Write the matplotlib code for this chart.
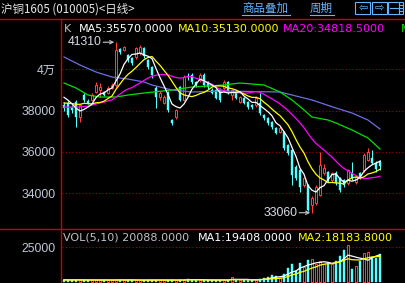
import matplotlib
matplotlib.use('Agg')
import matplotlib.pyplot as plt
import numpy as np
import pandas as pd
from matplotlib.patches import Rectangle

# ---------------- data ----------------
opens = [38270, 38370, 38180, 38420, 37690, 38760, 38470, 38510, 38900, 39000,
         38900, 38850, 39100, 39240, 40980, 40930, 40690, 40550, 40600, 40790,
         41030, 40450, 40110, 39100, 38660, 38370, 38850, 37550, 37690, 39140,
         38510, 39680, 39720, 39390, 39480, 39720, 39390, 39000, 39000, 39000,
         39100, 39390, 38760, 38900, 38420, 38610, 38420, 38270, 38270, 38370,
         37790, 37640, 37450, 37160, 36960, 36960, 36340, 36090, 35270, 35130,
         34400, 34400, 33430, 33530, 33920, 34980, 35030, 34640, 34980, 34740,
         34640, 34500, 34980, 34550, 34980, 35130, 35610, 35710, 35470, 35510]
highs = [38400, 38450, 38250, 38500, 38320, 38850, 38550, 38850, 39390, 39340,
         38950, 39200, 39350, 41310, 41050, 41150, 40750, 40600, 41100, 41180,
         41100, 40500, 40150, 39200, 38950, 38750, 38950, 37600, 38100, 39200,
         39700, 39820, 39800, 39450, 39800, 39800, 39450, 39100, 39050, 39100,
         39500, 39450, 39050, 38950, 38700, 38650, 38450, 38300, 38700, 38850,
         37850, 37700, 37500, 37200, 37250, 37000, 36400, 36150, 35350, 35200,
         34800, 34450, 33850, 34400, 36000, 35400, 35100, 35050, 35100, 34800,
         34700, 35200, 35510, 34900, 35050, 35950, 36200, 36100, 35550, 35600]
lows = [38000, 37700, 37900, 37210, 37450, 38400, 38300, 38450, 38850, 38660,
        38700, 38800, 39050, 39150, 40750, 40880, 40350, 40200, 40500, 40700,
        40550, 40000, 39600, 38130, 38510, 38300, 37950, 37300, 37600, 38450,
        38450, 39480, 39300, 39150, 39400, 39150, 39050, 38800, 38550, 38400,
        39000, 38800, 38510, 38550, 38350, 38300, 38100, 38100, 38200, 37800,
        37550, 37300, 37100, 36850, 36900, 36100, 35850, 34400, 34650, 34060,
        34300, 33150, 33060, 33450, 33850, 34900, 34550, 34550, 34400, 34050,
        34300, 34400, 34650, 34450, 34700, 35050, 35550, 35400, 35050, 35150]
closes = [38130, 37790, 38030, 37690, 38270, 38510, 38370, 38760, 39240, 39140,
          38760, 39100, 39240, 40930, 40840, 41080, 40450, 40300, 41030, 41080,
          40640, 40110, 39720, 38660, 38850, 38660, 38030, 37400, 38030, 38510,
          39630, 39630, 39390, 39240, 39720, 39240, 39150, 38850, 38610, 38510,
          39390, 38900, 39000, 38610, 38660, 38370, 38180, 38180, 38610, 37890,
          37640, 37400, 37210, 36920, 37160, 36190, 35950, 34880, 34740, 34300,
          34740, 33190, 33770, 34300, 35370, 35220, 34640, 34980, 34500, 34160,
          34400, 35130, 34740, 34790, 34790, 35850, 36000, 35470, 35180, 35300]
# closes before the first visible day (needed for the moving averages)
prior_closes = [37800, 38100, 37700, 37900, 38200, 38000, 37800, 38100, 38000, 38100,
                37900, 38200, 38000, 38300, 38050, 38500, 38900, 38700, 39000]
volumes = [1300, 1200, 1100, 1400, 1200, 1100, 1000, 1200, 1300, 1100,
           1200, 1000, 1100, 1500, 1300, 1200, 1100, 1000, 1200, 1100,
           1000, 1200, 1100, 1300, 1200, 1100, 1000, 1200, 1100, 1300,
           1200, 2200, 1300, 1200, 1100, 1000, 1200, 1100, 1000, 1200,
           1300, 1100, 3300, 1200, 1100, 1300, 1200, 1100, 1400, 1800,
           2600, 3200, 4800, 4000, 2900, 5500, 9800, 12400, 8000, 13500,
           10500, 15500, 16000, 12400, 15200, 12600, 13500, 12400, 15000, 18600,
           23000, 26600, 9000, 11000, 15150, 20500, 21500, 18000, 17000, 20088]
# long moving averages (day index, value)
ma40_idx = [0, 3, 6, 9, 13, 16, 20, 27, 32, 40, 44, 50, 54, 57, 60, 62, 66, 68, 72, 76, 79]
ma40_val = [39337, 39095, 38756, 38659, 38659, 38756, 38853, 38998, 39143, 39240, 39337,
            39240, 38901, 38514, 38030, 37691, 37546, 37401, 37062, 36675, 36143]
ma60_idx = [0, 4, 8, 12, 16, 20, 22, 27, 32, 40, 54, 57, 62, 68, 72, 76, 79]
ma60_val = [40595, 40208, 39869, 39627, 39530, 39385, 39240, 38998, 38901, 38950, 38901,
            38756, 38514, 38127, 37885, 37546, 37111]
price_ticks = [34000, 36000, 38000, 40000]
price_tick_labels = ['34000', '36000', '38000', '4万']
vol_ticks = [25000]
vol_tick_labels = ['25000']
title_text = '沪铜1605 (010005)<日线>'
header_k = [('K', '#c0c0c0', 64), ('MA5:35570.0000', '#ffffff', 79),
            ('MA10:35130.0000', '#ffff00', 178), ('MA20:34818.5000', '#ff00ff', 283),
            ('MA', '#00e000', 401)]
header_vol = [('VOL(5,10) 20088.0000', '#c0c0c0', 63), ('MA1:19408.0000', '#ffffff', 198),
              ('MA2:18183.8000', '#ffff00', 298)]

# ---------------- figure ----------------
W, H = 406, 283
fig = plt.figure(figsize=(W / 100, H / 100), dpi=100, facecolor='black')

def fx(px):
    return px / W

def fy(py):
    return 1 - py / H

RED_UP = '#ff3c3c'
CYAN = '#54ffff'
FRAME = '#d00000'
GRID = '#a00000'
TICKC = '#c0c8d8'

ax = fig.add_axes([fx(62), fy(229), fx(406) - fx(62), fy(18) - fy(229)])
axv = fig.add_axes([fx(62), 0, fx(406) - fx(62), fy(229)])
for a in (ax, axv):
    a.set_facecolor('black')
    for s in a.spines.values():
        s.set_visible(False)
    a.set_xlim(-0.5, 85.5)
    a.set_xticks([])
    a.tick_params(axis='y', length=0, pad=4.3, colors=TICKC)

ax.set_ylim(32273, 42482)
axv.set_ylim(-1000, 38000)

o = np.array(opens, float)
h = np.array(highs, float)
l = np.array(lows, float)
c = np.array(closes, float)
v = np.array(volumes, float)
x = np.arange(len(c))
up = c >= o
top = np.maximum(o, c)
bot = np.minimum(o, c)
bh = np.maximum(top - bot, 25)
lw = 0.75

# wicks
ax.vlines(x[up], top[up], h[up], color=RED_UP, lw=lw, zorder=2)
ax.vlines(x[up], l[up], bot[up], color=RED_UP, lw=lw, zorder=2)
ax.vlines(x[~up], l[~up], h[~up], color=CYAN, lw=lw, zorder=2)
# bodies
ax.bar(x[up], bh[up], bottom=bot[up], width=0.62, facecolor='black',
       edgecolor=RED_UP, linewidth=lw, zorder=2.1)
ax.bar(x[~up], bh[~up], bottom=bot[~up], width=0.7, facecolor=CYAN,
       edgecolor=CYAN, linewidth=0.3, zorder=2.1)

# moving averages
full = pd.Series(np.concatenate([prior_closes, closes]).astype(float))
npre = len(prior_closes)
ma5 = full.rolling(5).mean().values[npre:]
ma10 = full.rolling(10).mean().values[npre:]
ma20 = full.rolling(20).mean().values[npre:]
ax.plot(ma60_idx, ma60_val, color='#6e6ee6', lw=0.9, zorder=3)
ax.plot(ma40_idx, ma40_val, color='#00e000', lw=0.9, zorder=3)
ax.plot(x, ma20, color='#ff00ff', lw=0.9, zorder=3)
ax.plot(x, ma10, color='#ffff00', lw=0.9, zorder=3)
ax.plot(x, ma5, color='#ffffff', lw=0.9, zorder=3)

# grid + ticks
ax.set_yticks(price_ticks, price_tick_labels)
axv.set_yticks(vol_ticks, vol_tick_labels)
for a in (ax, axv):
    for t in a.get_yticklabels():
        t.set_fontfamily(['Liberation Sans', 'Noto Sans CJK SC'])
        t.set_fontsize(8.8)
        t.set_color(TICKC)
for yv in price_ticks:
    ax.axhline(yv, color=GRID, lw=0.8, ls=(0, (1, 2)), zorder=1)
for yv in vol_ticks:
    axv.axhline(yv, color=GRID, lw=0.8, ls=(0, (1, 2)), zorder=1)

# high / low annotations
imax = int(np.argmax(h))
imin = int(np.argmin(l))
lab = dict(color='#d8dce8', fontsize=8.8, family='Liberation Sans', va='center')
ax.text(imax - 3.5, h[imax], f'{int(h[imax])}', ha='right', **lab)
ax.annotate('', xy=(imax - 0.45, h[imax]), xytext=(imax - 3.2, h[imax]),
            arrowprops=dict(arrowstyle='->', color='#c8c8d0', lw=0.8,
                            shrinkA=0, shrinkB=0, mutation_scale=6))
ax.text(imin - 3.5, l[imin], f'{int(l[imin])}', ha='right', **lab)
ax.annotate('', xy=(imin - 0.45, l[imin]), xytext=(imin - 3.2, l[imin]),
            arrowprops=dict(arrowstyle='->', color='#c8c8d0', lw=0.8,
                            shrinkA=0, shrinkB=0, mutation_scale=6))

# volume bars
axv.bar(x[up], v[up], width=0.62, facecolor='black', edgecolor=RED_UP,
        linewidth=lw, zorder=2)
axv.bar(x[~up], v[~up], width=0.7, facecolor=CYAN, edgecolor=CYAN,
        linewidth=0.3, zorder=2)
vs = pd.Series(v)
axv.plot(x, vs.rolling(5, min_periods=1).mean(), color='#ffffff', lw=0.9, zorder=3)
axv.plot(x, vs.rolling(10, min_periods=1).mean(), color='#ffff00', lw=0.9, zorder=3)

# ---------------- overlay (frame, title, headers) ----------------
ov = fig.add_axes([0, 0, 1, 1], facecolor='none')
ov.set_xlim(0, W)
ov.set_ylim(H, 0)
ov.axis('off')
ov.plot([0, W], [18.5, 18.5], color=FRAME, lw=1.0)
ov.plot([0, W], [228.5, 228.5], color=FRAME, lw=1.0)
ov.plot([61.5, 61.5], [18.5, H], color=FRAME, lw=1.0)

cjk = ['Noto Sans CJK SC', 'DejaVu Sans']
ov.text(1, 9, title_text, color='#e6e6e6', fontsize=8.3, family=cjk,
        ha='left', va='center')
BLUE = '#64b4ff'
ov.text(242, 8.5, '商品叠加', color=BLUE, fontsize=8.3, family=cjk, ha='left', va='center')
ov.plot([242, 290], [14.5, 14.5], color=BLUE, lw=0.8)
ov.text(310, 8.5, '周期', color=BLUE, fontsize=8.3, family=cjk, ha='left', va='center')
ov.plot([310, 334], [14.5, 14.5], color=BLUE, lw=0.8)
for bx in (355.5, 372, 388.5):
    ov.add_patch(Rectangle((bx, 2), 15, 12, fill=False, edgecolor=BLUE, lw=0.8))
ov.text(363, 8, '⇦', color=BLUE, fontsize=8, family='DejaVu Sans', ha='center', va='center')
ov.text(379.5, 8, '⇨', color=BLUE, fontsize=8, family='DejaVu Sans', ha='center', va='center')
ov.plot([399, 399], [2, 14], color=BLUE, lw=0.8)
ov.plot([390, 403], [8, 8], color=BLUE, lw=0.8)
ov.plot([399, 403], [5, 5], color=BLUE, lw=0.8)
ov.plot([399, 403], [11, 11], color=BLUE, lw=0.8)

for txt, col, px in header_k:
    ov.text(px, 29, txt, color=col, fontsize=8.0, family='DejaVu Sans',
            ha='left', va='center', clip_on=False)
for txt, col, px in header_vol:
    ov.text(px, 238, txt, color=col, fontsize=8.0, family='DejaVu Sans',
            ha='left', va='center')

fig.savefig('out.png', dpi=100, facecolor='black')
